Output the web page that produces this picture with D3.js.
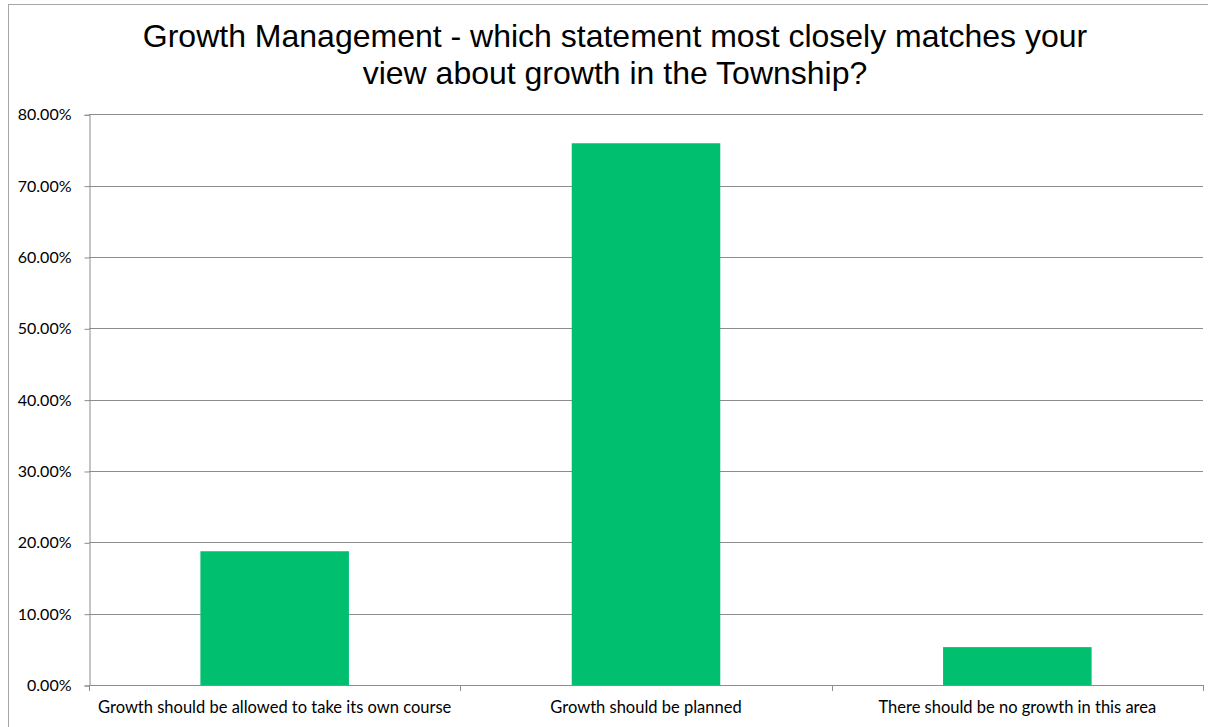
<!DOCTYPE html>
<html>
<head>
<meta charset="utf-8">
<script src="https://cdn.jsdelivr.net/npm/d3@7"></script>
<style>
  html, body { margin: 0; padding: 0; background: #fff; }
  svg { display: block; }
</style>
</head>
<body>
<svg id="chart" width="1208" height="727"></svg>
<script>
// Survey responses: share of respondents per statement
const categories = [
  "Growth should be allowed to take its own course",
  "Growth should be planned",
  "There should be no growth in this area"
];
const shares = [18.75, 75.94, 5.31];
const yTicks = [0, 10, 20, 30, 40, 50, 60, 70, 80];
const titleLines = [
  "Growth Management - which statement most closely matches your",
  "view about growth in the Township?"
];

const svg = d3.select("#chart");
const plot = { left: 89, right: 1203, top: 114.3, bottom: 685 };

// Chart frame
svg.append("rect")
  .attr("x", 8.5).attr("y", 4.5)
  .attr("width", 1220).attr("height", 740)
  .attr("fill", "#fff").attr("stroke", "#a6a6a6").attr("stroke-width", 1);

// Title
svg.append("g").selectAll("text").data(titleLines).join("text")
  .attr("x", 615).attr("y", (d, i) => 47 + i * 36.5)
  .attr("text-anchor", "middle")
  .attr("font-family", "Liberation Sans, Arial, sans-serif")
  .attr("font-size", 32)
  .attr("fill", "#000")
  .text(d => d);

const x = d3.scaleBand().domain(categories)
  .range([plot.left, plot.right]).paddingInner(0.6).paddingOuter(0.3);
const y = d3.scaleLinear().domain([0, 80]).range([plot.bottom, plot.top]);

// Horizontal gridlines
svg.append("g").selectAll("line").data(yTicks.filter(t => t > 0)).join("line")
  .attr("x1", plot.left).attr("x2", plot.right)
  .attr("y1", d => Math.round(y(d)) + 0.5).attr("y2", d => Math.round(y(d)) + 0.5)
  .attr("stroke", "#8c8c8c").attr("stroke-width", 1);

// Bars
svg.append("g").selectAll("rect").data(shares).join("rect")
  .attr("x", (d, i) => x(categories[i]))
  .attr("width", x.bandwidth())
  .attr("y", d => y(d))
  .attr("height", d => y(0) - y(d))
  .attr("fill", "#00bf6f");

// Y axis
const yAxis = d3.axisLeft(y).tickValues(yTicks)
  .tickFormat(d => d.toFixed(2) + "%").tickSize(5).tickPadding(13);
const gy = svg.append("g").attr("transform", `translate(${plot.left + 0.5},0.5)`).call(yAxis);
gy.select(".domain").attr("stroke", "#8c8c8c");
gy.selectAll(".tick line").attr("stroke", "#8c8c8c");
gy.selectAll(".tick text")
  .attr("font-family", "Lato, Liberation Sans, sans-serif")
  .attr("font-size", 16).attr("fill", "#000");

// X axis: category ticks sit on band boundaries
const bounds = d3.range(categories.length + 1).map(i => plot.left + i * (plot.right - plot.left) / categories.length);
const gx = svg.append("g");
gx.append("line")
  .attr("x1", plot.left).attr("x2", plot.right)
  .attr("y1", Math.round(y(0)) + 0.5).attr("y2", Math.round(y(0)) + 0.5)
  .attr("stroke", "#8c8c8c");
gx.selectAll("line.tk").data(bounds).join("line").attr("class", "tk")
  .attr("x1", d => Math.round(d) + 0.5).attr("x2", d => Math.round(d) + 0.5)
  .attr("y1", Math.round(y(0))).attr("y2", Math.round(y(0)) + 6)
  .attr("stroke", "#8c8c8c");
gx.selectAll("text").data(categories).join("text")
  .attr("x", d => x(d) + x.bandwidth() / 2)
  .attr("y", 713)
  .attr("text-anchor", "middle")
  .attr("font-family", "Lato, Liberation Sans, sans-serif")
  .attr("font-size", 16.5).attr("fill", "#000")
  .text(d => d);
</script>
</body>
</html>
